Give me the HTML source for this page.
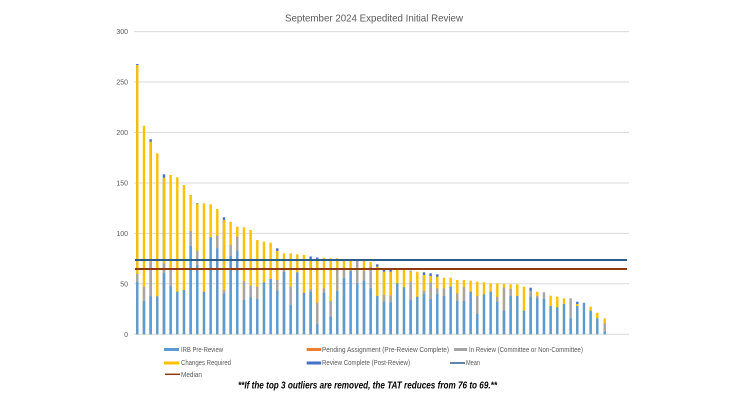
<!DOCTYPE html>
<html><head><meta charset="utf-8"><style>
html,body{margin:0;padding:0;background:#fff;}
svg{display:block;}
.b{fill:#5B9BD5}.g{fill:#A5A5A5}.y{fill:#FFC000}.d{fill:#4472C4}
text{font-family:"Liberation Sans",sans-serif;fill:#595959;}
</style></head><body>
<svg width="750" height="400" viewBox="0 0 750 400" xmlns="http://www.w3.org/2000/svg">
<rect width="750" height="400" fill="#fff"/>
<text x="285" y="21.5" font-size="10.5" textLength="178" lengthAdjust="spacingAndGlyphs">September 2024 Expedited Initial Review</text>
<g stroke="#D9D9D9" stroke-width="1">
<line x1="134" y1="31.6" x2="629" y2="31.6"/>
<line x1="134" y1="82" x2="629" y2="82"/>
<line x1="134" y1="132.5" x2="629" y2="132.5"/>
<line x1="134" y1="183" x2="629" y2="183"/>
<line x1="134" y1="233.4" x2="629" y2="233.4"/>
<line x1="134" y1="283.8" x2="629" y2="283.8"/>
<line x1="134" y1="334.3" x2="629" y2="334.3"/>
</g>
<g font-size="7" text-anchor="end">
<text x="128" y="34">300</text>
<text x="128" y="84.5">250</text>
<text x="128" y="135">200</text>
<text x="128" y="185.5">150</text>
<text x="128" y="236">100</text>
<text x="128" y="286.3">50</text>
<text x="128" y="336.8">0</text>
</g>
<g>
<!-- 1 --><rect class="d" x="136.1" y="64" width="2.4" height="270.3"/><rect class="y" x="136.1" y="65" width="2.4" height="269.3"/><rect class="g" x="136.1" y="274" width="2.4" height="60.3"/><rect class="b" x="136.1" y="282" width="2.4" height="52.3"/>
<!-- 2 --><rect class="y" x="142.77" y="125.7" width="2.4" height="208.6"/><rect class="g" x="142.77" y="286.7" width="2.4" height="47.6"/><rect class="b" x="142.77" y="301" width="2.4" height="33.3"/>
<!-- 3 --><rect class="d" x="149.43" y="139.3" width="2.4" height="195"/><rect class="y" x="149.43" y="141.7" width="2.4" height="192.6"/><rect class="g" x="149.43" y="261.7" width="2.4" height="72.6"/><rect class="b" x="149.43" y="296.3" width="2.4" height="38"/>
<!-- 4 --><rect class="y" x="156.1" y="153.3" width="2.4" height="181"/><rect class="b" x="156.1" y="296.3" width="2.4" height="38"/>
<!-- 5 --><rect class="d" x="162.77" y="174.3" width="2.4" height="160"/><rect class="y" x="162.77" y="177.7" width="2.4" height="156.6"/><rect class="g" x="162.77" y="263.3" width="2.4" height="71"/><rect class="b" x="162.77" y="273.3" width="2.4" height="61"/>
<!-- 6 --><rect class="y" x="169.43" y="175" width="2.4" height="159.3"/><rect class="g" x="169.43" y="269" width="2.4" height="65.3"/><rect class="b" x="169.43" y="286.3" width="2.4" height="48"/>
<!-- 7 --><rect class="y" x="176.1" y="177.3" width="2.4" height="157"/><rect class="b" x="176.1" y="291.7" width="2.4" height="42.6"/>
<!-- 8 --><rect class="y" x="182.77" y="185" width="2.4" height="149.3"/><rect class="b" x="182.77" y="290" width="2.4" height="44.3"/>
<!-- 9 --><rect class="y" x="189.43" y="195" width="2.4" height="139.3"/><rect class="g" x="189.43" y="231" width="2.4" height="103.3"/><rect class="b" x="189.43" y="246" width="2.4" height="88.3"/>
<!-- 10 --><rect class="g" x="196.1" y="203" width="2.4" height="131.3"/><rect class="y" x="196.1" y="204.3" width="2.4" height="130"/><rect class="g" x="196.1" y="250.7" width="2.4" height="83.6"/><rect class="b" x="196.1" y="265" width="2.4" height="69.3"/>
<!-- 11 --><rect class="y" x="202.77" y="203.3" width="2.4" height="131"/><rect class="b" x="202.77" y="291.7" width="2.4" height="42.6"/>
<!-- 12 --><rect class="y" x="209.43" y="204.3" width="2.4" height="130"/><rect class="b" x="209.43" y="237.3" width="2.4" height="97"/>
<!-- 13 --><rect class="y" x="216.1" y="209" width="2.4" height="125.3"/><rect class="g" x="216.1" y="235.7" width="2.4" height="98.6"/><rect class="b" x="216.1" y="248.3" width="2.4" height="86"/>
<!-- 14 --><rect class="d" x="222.77" y="217.3" width="2.4" height="117"/><rect class="y" x="222.77" y="220" width="2.4" height="114.3"/><rect class="g" x="222.77" y="290" width="2.4" height="44.3"/><rect class="b" x="222.77" y="293.3" width="2.4" height="41"/>
<!-- 15 --><rect class="y" x="229.43" y="221.7" width="2.4" height="112.6"/><rect class="g" x="229.43" y="245" width="2.4" height="89.3"/><rect class="b" x="229.43" y="256" width="2.4" height="78.3"/>
<!-- 16 --><rect class="y" x="236.1" y="226.7" width="2.4" height="107.6"/><rect class="g" x="236.1" y="236.7" width="2.4" height="97.6"/><rect class="b" x="236.1" y="251" width="2.4" height="83.3"/>
<!-- 17 --><rect class="y" x="242.77" y="227.3" width="2.4" height="107"/><rect class="g" x="242.77" y="281" width="2.4" height="53.3"/><rect class="b" x="242.77" y="300" width="2.4" height="34.3"/>
<!-- 18 --><rect class="y" x="249.43" y="230" width="2.4" height="104.3"/><rect class="g" x="249.43" y="285.7" width="2.4" height="48.6"/><rect class="b" x="249.43" y="297.3" width="2.4" height="37"/>
<!-- 19 --><rect class="y" x="256.1" y="240" width="2.4" height="94.3"/><rect class="g" x="256.1" y="286.7" width="2.4" height="47.6"/><rect class="b" x="256.1" y="299.3" width="2.4" height="35"/>
<!-- 20 --><rect class="y" x="262.77" y="241.7" width="2.4" height="92.6"/><rect class="b" x="262.77" y="282.3" width="2.4" height="52"/>
<!-- 21 --><rect class="y" x="269.43" y="242.7" width="2.4" height="91.6"/><rect class="b" x="269.43" y="279" width="2.4" height="55.3"/>
<!-- 22 --><rect class="d" x="276.1" y="248.3" width="2.4" height="86"/><rect class="y" x="276.1" y="251" width="2.4" height="83.3"/><rect class="g" x="276.1" y="280" width="2.4" height="54.3"/><rect class="b" x="276.1" y="290.7" width="2.4" height="43.6"/>
<!-- 23 --><rect class="y" x="282.77" y="253.3" width="2.4" height="81"/><rect class="g" x="282.77" y="269.3" width="2.4" height="65"/><rect class="b" x="282.77" y="272" width="2.4" height="62.3"/>
<!-- 24 --><rect class="y" x="289.43" y="253.3" width="2.4" height="81"/><rect class="g" x="289.43" y="286.7" width="2.4" height="47.6"/><rect class="b" x="289.43" y="305" width="2.4" height="29.3"/>
<!-- 25 --><rect class="y" x="296.1" y="254.3" width="2.4" height="80"/><rect class="b" x="296.1" y="272.3" width="2.4" height="62"/>
<!-- 26 --><rect class="y" x="302.77" y="255" width="2.4" height="79.3"/><rect class="b" x="302.77" y="292.7" width="2.4" height="41.6"/>
<!-- 27 --><rect class="d" x="309.43" y="256.5" width="2.4" height="77.8"/><rect class="y" x="309.43" y="259.5" width="2.4" height="74.8"/><rect class="g" x="309.43" y="289.3" width="2.4" height="45"/><rect class="b" x="309.43" y="291.7" width="2.4" height="42.6"/>
<!-- 28 --><rect class="d" x="316.1" y="257.5" width="2.4" height="76.8"/><rect class="y" x="316.1" y="260" width="2.4" height="74.3"/><rect class="g" x="316.1" y="302.7" width="2.4" height="31.6"/><rect class="b" x="316.1" y="324.3" width="2.4" height="10"/>
<!-- 29 --><rect class="y" x="322.77" y="257.7" width="2.4" height="76.6"/><rect class="g" x="322.77" y="288.3" width="2.4" height="46"/><rect class="b" x="322.77" y="292.7" width="2.4" height="41.6"/>
<!-- 30 --><rect class="y" x="329.43" y="258.3" width="2.4" height="76"/><rect class="g" x="329.43" y="301" width="2.4" height="33.3"/><rect class="b" x="329.43" y="316.7" width="2.4" height="17.6"/>
<!-- 31 --><rect class="y" x="336.1" y="258.3" width="2.4" height="76"/><rect class="g" x="336.1" y="270" width="2.4" height="64.3"/><rect class="b" x="336.1" y="291" width="2.4" height="43.3"/>
<!-- 32 --><rect class="y" x="342.77" y="260" width="2.4" height="74.3"/><rect class="g" x="342.77" y="269.3" width="2.4" height="65"/><rect class="b" x="342.77" y="278.3" width="2.4" height="56"/>
<!-- 33 --><rect class="y" x="349.43" y="260" width="2.4" height="74.3"/><rect class="b" x="349.43" y="270.7" width="2.4" height="63.6"/>
<!-- 34 --><rect class="y" x="356.1" y="259.3" width="2.4" height="75"/><rect class="g" x="356.1" y="260.7" width="2.4" height="73.6"/><rect class="b" x="356.1" y="283.3" width="2.4" height="51"/>
<!-- 35 --><rect class="y" x="362.77" y="260.7" width="2.4" height="73.6"/><rect class="g" x="362.77" y="270.7" width="2.4" height="63.6"/><rect class="b" x="362.77" y="280.7" width="2.4" height="53.6"/>
<!-- 36 --><rect class="y" x="369.43" y="262" width="2.4" height="72.3"/><rect class="g" x="369.43" y="266.7" width="2.4" height="67.6"/><rect class="b" x="369.43" y="288.3" width="2.4" height="46"/>
<!-- 37 --><rect class="d" x="376.1" y="264.3" width="2.4" height="70"/><rect class="y" x="376.1" y="266.7" width="2.4" height="67.6"/><rect class="b" x="376.1" y="296" width="2.4" height="38.3"/>
<!-- 38 --><rect class="d" x="382.77" y="269.3" width="2.4" height="65"/><rect class="y" x="382.77" y="271.7" width="2.4" height="62.6"/><rect class="g" x="382.77" y="295" width="2.4" height="39.3"/><rect class="b" x="382.77" y="301.7" width="2.4" height="32.6"/>
<!-- 39 --><rect class="d" x="389.43" y="269.3" width="2.4" height="65"/><rect class="y" x="389.43" y="271.7" width="2.4" height="62.6"/><rect class="g" x="389.43" y="295.7" width="2.4" height="38.6"/><rect class="b" x="389.43" y="302.3" width="2.4" height="32"/>
<!-- 40 --><rect class="y" x="396.1" y="269.3" width="2.4" height="65"/><rect class="b" x="396.1" y="283.3" width="2.4" height="51"/>
<!-- 41 --><rect class="y" x="402.77" y="269.3" width="2.4" height="65"/><rect class="b" x="402.77" y="287.3" width="2.4" height="47"/>
<!-- 42 --><rect class="g" x="409.43" y="270.5" width="2.4" height="63.8"/><rect class="y" x="409.43" y="271.7" width="2.4" height="62.6"/><rect class="g" x="409.43" y="281.7" width="2.4" height="52.6"/><rect class="b" x="409.43" y="300" width="2.4" height="34.3"/>
<!-- 43 --><rect class="y" x="416.1" y="271.7" width="2.4" height="62.6"/><rect class="b" x="416.1" y="296.7" width="2.4" height="37.6"/>
<!-- 44 --><rect class="d" x="422.77" y="272.3" width="2.4" height="62"/><rect class="y" x="422.77" y="275" width="2.4" height="59.3"/><rect class="g" x="422.77" y="290.7" width="2.4" height="43.6"/><rect class="b" x="422.77" y="294" width="2.4" height="40.3"/>
<!-- 45 --><rect class="d" x="429.43" y="273.3" width="2.4" height="61"/><rect class="y" x="429.43" y="276" width="2.4" height="58.3"/><rect class="g" x="429.43" y="282.3" width="2.4" height="52"/><rect class="b" x="429.43" y="299.3" width="2.4" height="35"/>
<!-- 46 --><rect class="d" x="436.1" y="274.3" width="2.4" height="60"/><rect class="y" x="436.1" y="276.7" width="2.4" height="57.6"/><rect class="g" x="436.1" y="288.3" width="2.4" height="46"/><rect class="b" x="436.1" y="294" width="2.4" height="40.3"/>
<!-- 47 --><rect class="y" x="442.77" y="277.7" width="2.4" height="56.6"/><rect class="g" x="442.77" y="288.3" width="2.4" height="46"/><rect class="b" x="442.77" y="296" width="2.4" height="38.3"/>
<!-- 48 --><rect class="y" x="449.43" y="277.7" width="2.4" height="56.6"/><rect class="b" x="449.43" y="286.7" width="2.4" height="47.6"/>
<!-- 49 --><rect class="y" x="456.1" y="280" width="2.4" height="54.3"/><rect class="g" x="456.1" y="293.3" width="2.4" height="41"/><rect class="b" x="456.1" y="301" width="2.4" height="33.3"/>
<!-- 50 --><rect class="y" x="462.77" y="280" width="2.4" height="54.3"/><rect class="g" x="462.77" y="287.3" width="2.4" height="47"/><rect class="b" x="462.77" y="301" width="2.4" height="33.3"/>
<!-- 51 --><rect class="y" x="469.43" y="280.7" width="2.4" height="53.6"/><rect class="b" x="469.43" y="291.7" width="2.4" height="42.6"/>
<!-- 52 --><rect class="y" x="476.1" y="281.7" width="2.4" height="52.6"/><rect class="g" x="476.1" y="296" width="2.4" height="38.3"/><rect class="b" x="476.1" y="314" width="2.4" height="20.3"/>
<!-- 53 --><rect class="y" x="482.77" y="282.3" width="2.4" height="52"/><rect class="b" x="482.77" y="294.3" width="2.4" height="40"/>
<!-- 54 --><rect class="y" x="489.43" y="283.3" width="2.4" height="51"/><rect class="b" x="489.43" y="291.7" width="2.4" height="42.6"/>
<!-- 55 --><rect class="y" x="496.1" y="283.3" width="2.4" height="51"/><rect class="g" x="496.1" y="296.7" width="2.4" height="37.6"/><rect class="b" x="496.1" y="301.7" width="2.4" height="32.6"/>
<!-- 56 --><rect class="y" x="502.77" y="283.7" width="2.4" height="50.6"/><rect class="g" x="502.77" y="287.7" width="2.4" height="46.6"/><rect class="b" x="502.77" y="310.7" width="2.4" height="23.6"/>
<!-- 57 --><rect class="y" x="509.43" y="284.3" width="2.4" height="50"/><rect class="g" x="509.43" y="289" width="2.4" height="45.3"/><rect class="b" x="509.43" y="296" width="2.4" height="38.3"/>
<!-- 58 --><rect class="y" x="516.1" y="284.3" width="2.4" height="50"/><rect class="b" x="516.1" y="296" width="2.4" height="38.3"/>
<!-- 59 --><rect class="y" x="522.77" y="286.7" width="2.4" height="47.6"/><rect class="b" x="522.77" y="310.7" width="2.4" height="23.6"/>
<!-- 60 --><rect class="d" x="529.43" y="287.7" width="2.4" height="46.6"/><rect class="g" x="529.43" y="290.7" width="2.4" height="43.6"/><rect class="b" x="529.43" y="296.7" width="2.4" height="37.6"/>
<!-- 61 --><rect class="y" x="536.1" y="291.7" width="2.4" height="42.6"/><rect class="g" x="536.1" y="296" width="2.4" height="38.3"/><rect class="b" x="536.1" y="298.3" width="2.4" height="36"/>
<!-- 62 --><rect class="g" x="542.77" y="292.3" width="2.4" height="42"/><rect class="b" x="542.77" y="299" width="2.4" height="35.3"/>
<!-- 63 --><rect class="y" x="549.43" y="295.7" width="2.4" height="38.6"/><rect class="b" x="549.43" y="306" width="2.4" height="28.3"/>
<!-- 64 --><rect class="y" x="556.1" y="296.7" width="2.4" height="37.6"/><rect class="b" x="556.1" y="307.3" width="2.4" height="27"/>
<!-- 65 --><rect class="y" x="562.77" y="298.3" width="2.4" height="36"/><rect class="b" x="562.77" y="304" width="2.4" height="30.3"/>
<!-- 66 --><rect class="g" x="569.43" y="298.3" width="2.4" height="36"/><rect class="b" x="569.43" y="318.3" width="2.4" height="16"/>
<!-- 67 --><rect class="d" x="576.1" y="301.7" width="2.4" height="32.6"/><rect class="y" x="576.1" y="304" width="2.4" height="30.3"/><rect class="b" x="576.1" y="306" width="2.4" height="28.3"/>
<!-- 68 --><rect class="b" x="582.77" y="302.7" width="2.4" height="31.6"/>
<!-- 69 --><rect class="y" x="589.43" y="306.7" width="2.4" height="27.6"/><rect class="b" x="589.43" y="310.7" width="2.4" height="23.6"/>
<!-- 70 --><rect class="y" x="596.1" y="312.7" width="2.4" height="21.6"/><rect class="b" x="596.1" y="318.3" width="2.4" height="16"/>
<!-- 71 --><rect class="y" x="603.5" y="318.3" width="2.4" height="16"/><rect class="g" x="603.5" y="323.3" width="2.4" height="11"/><rect class="b" x="603.5" y="331.7" width="2.4" height="2.6"/>
</g>
<line x1="135" y1="260" x2="627" y2="260" stroke="#2C5D8A" stroke-width="2"/>
<line x1="135" y1="269" x2="627" y2="269" stroke="#8E3A12" stroke-width="2"/>
<!-- legend -->
<rect x="164" y="348" width="15" height="3" fill="#5B9BD5"/>
<text x="181" y="351.8" font-size="7" textLength="42" lengthAdjust="spacingAndGlyphs">IRB Pre-Review</text>
<rect x="306.7" y="348" width="14.5" height="3" fill="#ED7D31"/>
<text x="322" y="351.8" font-size="7" textLength="127" lengthAdjust="spacingAndGlyphs">Pending Assignment (Pre-Review Complete)</text>
<rect x="454" y="348" width="13" height="3" fill="#A5A5A5"/>
<text x="469" y="351.8" font-size="7" textLength="114" lengthAdjust="spacingAndGlyphs">In Review (Committee or Non-Committee)</text>
<rect x="164" y="361.5" width="15" height="3" fill="#FFC000"/>
<text x="181" y="365.2" font-size="7" textLength="50" lengthAdjust="spacingAndGlyphs">Changes Required</text>
<rect x="306.7" y="361.5" width="14.5" height="3" fill="#4472C4"/>
<text x="322" y="365.2" font-size="7" textLength="88" lengthAdjust="spacingAndGlyphs">Review Complete (Post-Review)</text>
<line x1="450" y1="363" x2="465" y2="363" stroke="#2C5D8A" stroke-width="1.5"/>
<text x="466" y="365.2" font-size="7" textLength="14" lengthAdjust="spacingAndGlyphs">Mean</text>
<line x1="165" y1="374.3" x2="180" y2="374.3" stroke="#8E3A12" stroke-width="1.5"/>
<text x="181" y="376.8" font-size="7" textLength="21" lengthAdjust="spacingAndGlyphs">Median</text>
<text x="238" y="388.5" font-size="10" font-weight="bold" font-style="italic" style="fill:#000" textLength="259" lengthAdjust="spacingAndGlyphs">**If the top 3 outliers are removed, the TAT reduces from 76 to 69.**</text>
</svg>
</body></html>
